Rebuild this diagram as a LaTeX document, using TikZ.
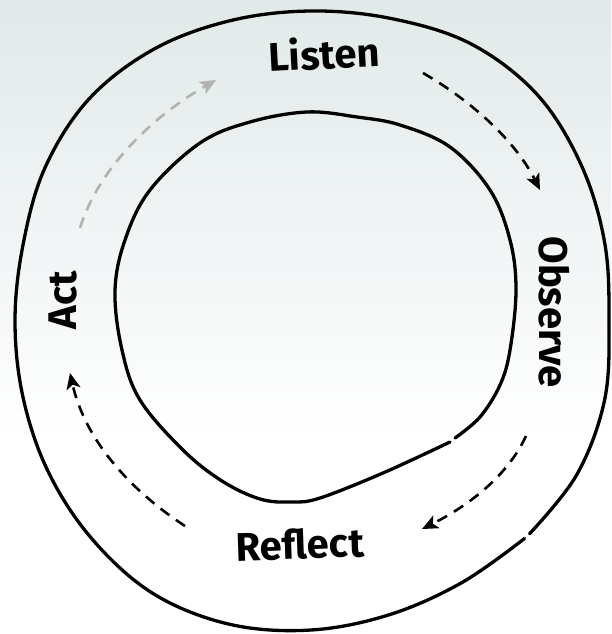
\documentclass[tikz,border=0pt]{standalone}
\usepackage{fontspec}
\setmainfont{Fira Sans}
\usetikzlibrary{arrows.meta}
\definecolor{bgtop}{RGB}{225,233,233}
\definecolor{arrgray}{RGB}{178,178,178}
\tikzset{
  ring/.style={line width=3.3pt, line cap=round, black},
  flow/.style={line width=2.6pt, dash pattern=on 11pt off 8pt, -{Stealth[length=16pt,width=14pt,inset=4pt]}},
  lbl/.style={font=\fontsize{40}{40}\selectfont\bfseries, inner sep=0pt}
}
\begin{document}
\begin{tikzpicture}[x=1pt,y=-1pt]
\useasboundingbox (0,0) rectangle (611,634);
\fill[white] (0,0) rectangle (611,634);
\shade[top color=bgtop, bottom color=white] (0,0) rectangle (611,440);
% outer ring
\draw[ring] plot[smooth, tension=0.6] coordinates {
 (529.5,533.8) (576.9,474.5) (604.6,399.9) (609,321) (604.6,242.3)
 (581.2,165) (537.3,94.7) (471,43.9) (392,18.7) (311,11) (230.5,20.6)
 (154,49.1) (89,99) (45.1,167.5) (23.2,243.9) (15,321) (23.2,398.1)
 (48.6,472.5) (92.5,539.5) (153.5,593.8) (229.7,624.3) (311,630)
 (389.7,614.6) (462,582.5) (524.5,538.5)};
% inner ring
\draw[ring] plot[smooth, tension=0.6] coordinates {
 (455,438) (480,417) (500,385) (510,350) (516,290) (510,240) (490,190)
 (450,147) (400,125) (357,117) (307,112) (250,122) (200,143) (150,190)
 (125,240) (115,291) (122,350) (140,400) (183,450) (222,481) (260,499)
 (292,502) (320,498) (383,473) (450,442)};
% labels
\node[lbl, rotate=3] (listen) at (324,53) {Listen};
\node[lbl, rotate=-90] (observe) at (554,312) {Observe};
\node[lbl, rotate=2] (reflect) at (300,544) {Reflect};
\node[lbl, rotate=90] (act) at (63,300) {Act};
% arrow end points
\coordinate (a1s) at (80,228);  \coordinate (a1e) at (216,80);
\coordinate (a2s) at (423,73);  \coordinate (a2e) at (540,190);
\coordinate (a3s) at (526,436); \coordinate (a3e) at (422,529);
\coordinate (a4s) at (185,526); \coordinate (a4e) at (70,373);
\draw[flow, arrgray] (a1s) .. controls (98,170) and (150,118) .. (a1e);
\draw[flow] (a2s) .. controls (470,100) and (515,140) .. (a2e);
\draw[flow] (a3s) .. controls (508,475) and (470,505) .. (a3e);
\draw[flow] (a4s) .. controls (130,490) and (85,440) .. (a4e);
\end{tikzpicture}
\end{document}
